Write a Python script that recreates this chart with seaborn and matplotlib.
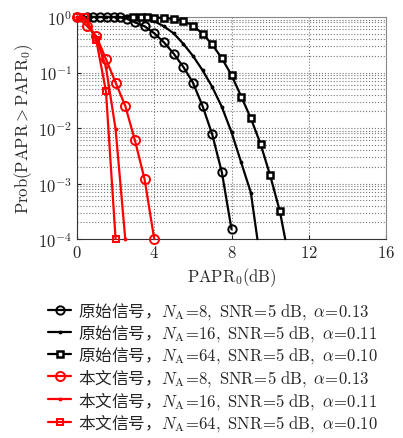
import numpy as np
import pandas as pd
import seaborn as sns
import matplotlib
matplotlib.use("Agg")
from matplotlib import pyplot as plt

# data (x in dB, y = probability)
orig8_x = [0.5, 0.85, 1.2, 1.55, 1.9, 2.25, 2.6, 3.0, 3.5, 4.0, 4.5, 5.0, 5.5, 6.0, 6.5, 7.0, 7.5, 8.0]
orig8_y = [1, 1, 1, 1, 1, 0.98, 0.93, 0.80, 0.68, 0.51, 0.35, 0.22, 0.127, 0.066, 0.025, 0.0077, 0.0016, 1.5e-4]

orig16_x = [0, 0.5, 1.0, 1.5, 2.0, 2.5, 3.0, 3.5, 4.0, 4.5, 5.0, 5.5, 6.0, 6.5, 7.0, 7.5, 8.0, 8.5, 9.0, 9.34]
orig16_y = [1, 1, 1, 1, 1, 1, 0.995, 0.97, 0.84, 0.68, 0.51, 0.33, 0.20, 0.11, 0.055, 0.024, 0.0084, 0.0024, 6.9e-4, 1e-4]

orig64_x = [2.9, 3.3, 3.65, 4.0, 4.5, 5.0, 5.5, 6.0, 6.5, 7.0, 7.5, 8.0, 8.5, 9.0, 9.5, 10.0, 10.5, 10.78]
orig64_y = [1, 1, 1, 0.97, 0.97, 0.92, 0.86, 0.70, 0.50, 0.32, 0.18, 0.090, 0.037, 0.015, 0.0052, 0.0014, 3.2e-4, 1e-4]

prop8_x = [0, 0.5, 1.0, 1.5, 2.0, 2.5, 3.0, 3.5, 4.0]
prop8_y = [1, 0.70, 0.45, 0.175, 0.066, 0.025, 0.006, 0.0012, 1e-4]

prop16_x = [0, 0.5, 1.0, 1.5, 2.0, 2.5]
prop16_y = [1, 0.85, 0.42, 0.125, 0.0095, 1e-4]

prop64_x = [0, 0.4, 1.0, 1.5, 2.0]
prop64_y = [1, 0.98, 0.38, 0.046, 1e-4]

labels = [
    r"原始信号，$N_{\rm A}\!=\!8,\ {\rm SNR}\!=\!5\ {\rm dB},\ \alpha\!=\!0.13$",
    r"原始信号，$N_{\rm A}\!=\!16,\ {\rm SNR}\!=\!5\ {\rm dB},\ \alpha\!=\!0.11$",
    r"原始信号，$N_{\rm A}\!=\!64,\ {\rm SNR}\!=\!5\ {\rm dB},\ \alpha\!=\!0.10$",
    r"本文信号，$N_{\rm A}\!=\!8,\ {\rm SNR}\!=\!5\ {\rm dB},\ \alpha\!=\!0.13$",
    r"本文信号，$N_{\rm A}\!=\!16,\ {\rm SNR}\!=\!5\ {\rm dB},\ \alpha\!=\!0.11$",
    r"本文信号，$N_{\rm A}\!=\!64,\ {\rm SNR}\!=\!5\ {\rm dB},\ \alpha\!=\!0.10$",
]

sns.set_style("ticks")
plt.rcParams['font.family'] = ['cmr10', 'Noto Sans CJK SC']
plt.rcParams['mathtext.fontset'] = 'cm'
plt.rcParams['axes.formatter.use_mathtext'] = True
plt.rcParams['font.size'] = 12

fig = plt.figure(figsize=(4.03, 4.39), dpi=100)
ax = fig.add_axes([0.191, 0.453, 0.767, 0.506])

series = [
    (orig8_x, orig8_y, 'black', 'o', 6, 'none', 1.4),
    (orig16_x, orig16_y, 'black', '.', 3.5, 'black', 1.0),
    (orig64_x, orig64_y, 'black', 's', 4.3, 'white', 1.8),
    (prop8_x, prop8_y, 'red', 'o', 6.5, 'none', 1.4),
    (prop16_x, prop16_y, 'red', '.', 3.5, 'red', 1.0),
    (prop64_x, prop64_y, 'red', 's', 5, 'none', 1.4),
]
for i, (x, y, c, m, ms, mfc, mew) in enumerate(series):
    df = pd.DataFrame({'x': x, 'y': y})
    every = slice(0, len(x) - 1) if i in (1, 2) else None
    sns.lineplot(data=df, x='x', y='y', ax=ax, color=c, marker=m, markersize=ms,
                 markerfacecolor=mfc, markeredgecolor=c, markeredgewidth=mew,
                 linewidth=1.6, label=labels[i], sort=False, estimator=None,
                 clip_on=False, markevery=every, zorder=3)

ax.set_yscale('log')
ax.set_xlim(0, 16)
ax.set_ylim(1e-4, 1)
ax.set_xticks([0, 4, 8, 12, 16])
ax.set_yticks([1e-4, 1e-3, 1e-2, 1e-1, 1])
ax.grid(True, which='major', linestyle=':', color='#777777', linewidth=0.8)
ax.grid(True, which='minor', axis='y', linestyle=':', color='#777777', linewidth=0.8)
ax.tick_params(which='both', direction='in', labelsize=12)
ax.tick_params(which='minor', length=0)
ax.tick_params(which='major', length=3)
for s in ['left', 'bottom']:
    ax.spines[s].set_color('#333333')
for s in ['top', 'right']:
    ax.spines[s].set_color('#888888')
ax.set_xlabel(r"${\rm PAPR}_0{\rm (dB)}$", fontsize=12, labelpad=4)
ax.set_ylabel(r"${\rm Prob(PAPR}{>}{\rm PAPR}_0)$", fontsize=12, labelpad=2)

ax.legend(loc='upper left', bbox_to_anchor=(-0.115, -0.245), frameon=False,
          prop={'family': 'Noto Sans CJK SC', 'size': 12},
          handlelength=1.4, handletextpad=0.4, labelspacing=0.05,
          borderaxespad=0)

fig.savefig('out.png', dpi=100)
